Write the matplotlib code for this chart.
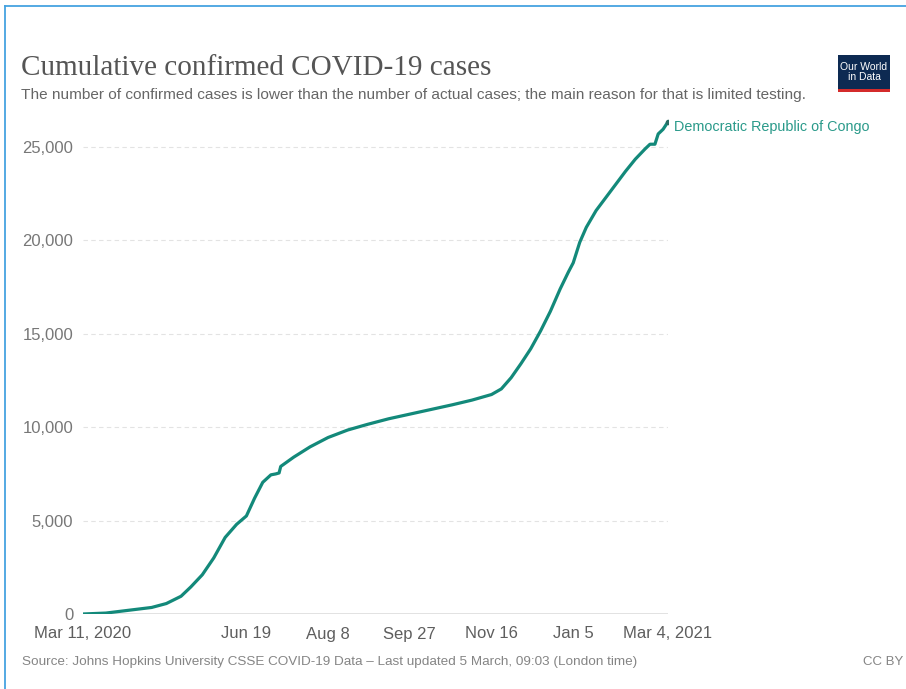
import matplotlib
matplotlib.use("Agg")
import matplotlib.pyplot as plt
from matplotlib.patches import Rectangle
from matplotlib.lines import Line2D
import pandas as pd

# ---- data ----
dates = ["2020-03-11", "2020-03-25", "2020-04-08", "2020-04-22", "2020-05-01",
         "2020-05-10", "2020-05-16", "2020-05-23", "2020-05-30", "2020-06-06",
         "2020-06-13", "2020-06-19", "2020-06-24", "2020-06-29", "2020-07-04",
         "2020-07-07", "2020-07-09", "2020-07-10", "2020-07-18", "2020-07-28",
         "2020-08-08", "2020-08-20", "2020-09-01", "2020-09-14", "2020-09-27",
         "2020-10-10", "2020-10-23", "2020-11-04", "2020-11-16", "2020-11-22",
         "2020-11-28", "2020-12-04", "2020-12-10", "2020-12-16", "2020-12-22",
         "2020-12-28", "2021-01-02", "2021-01-05", "2021-01-09", "2021-01-13",
         "2021-01-19", "2021-01-25", "2021-01-31", "2021-02-06", "2021-02-12",
         "2021-02-18", "2021-02-21", "2021-02-24", "2021-02-26", "2021-03-01",
         "2021-03-04"]
cases = [1, 50, 200, 350, 560,
         950, 1450, 2100, 3000, 4100,
         4800, 5250, 6200, 7050, 7450,
         7500, 7550, 7900, 8400, 8950,
         9450, 9850, 10150, 10450, 10700,
         10950, 11200, 11450, 11750, 12050,
         12650, 13400, 14200, 15150, 16200,
         17400, 18300, 18800, 19900, 20700,
         21600, 22300, 23000, 23700, 24350,
         24900, 25150, 25150, 25700, 25950,
         26350]
country = "Democratic Republic of Congo"
y_ticks = [0, 5000, 10000, 15000, 20000, 25000]
x_tick_dates = ["2020-03-11", "2020-06-19", "2020-08-08", "2020-09-27",
                "2020-11-16", "2021-01-05", "2021-03-04"]
x_tick_labels = ["Mar 11, 2020", "Jun 19", "Aug 8", "Sep 27", "Nov 16",
                 "Jan 5", "Mar 4, 2021"]

W, H = 906, 689
fig = plt.figure(figsize=(W / 100, H / 100), dpi=100)
fig.patch.set_facecolor("white")

def fx(px):
    return px / W

def fy(py):
    return 1 - py / H

ax_left, ax_right, ax_bottom, ax_top = 83, 668, 614, 119
ax = fig.add_axes([fx(ax_left), fy(ax_bottom), fx(ax_right - ax_left),
                   (ax_bottom - ax_top) / H])

d = pd.to_datetime(dates)
teal = "#13897a"
ax.plot(d, cases, color=teal, lw=2.3, solid_capstyle="round", zorder=3)
ax.plot(d[-1:], cases[-1:], "o", color="#2b6b62", ms=3, zorder=4)

ax.set_xlim(pd.Timestamp("2020-03-11"), pd.Timestamp("2021-03-04"))
ax.set_ylim(0, 26500)
ax.set_yticks(y_ticks)
ax.set_yticklabels([f"{v:,}" for v in y_ticks])
ax.set_xticks(pd.to_datetime(x_tick_dates))
ax.set_xticklabels(x_tick_labels)

for s in ax.spines.values():
    s.set_visible(False)
ax.tick_params(axis="y", length=0, pad=7, labelsize=12, labelcolor="#777777")
ax.tick_params(axis="x", length=0, pad=9, labelsize=12, labelcolor="#5e5e5e")
for lab in ax.get_xticklabels() + ax.get_yticklabels():
    lab.set_fontfamily("Liberation Sans")
ax.grid(axis="y", color="#e3e3e3", lw=0.8, ls=(0, (4, 3)))
ax.grid(axis="x", visible=False)
ax.axhline(0, color="#dddddd", lw=1.2, zorder=1)
ax.set_axisbelow(True)

ax.annotate(country, xy=(d[-1], cases[-1]), xytext=(4, -4),
            textcoords="offset points", ha="left", va="center",
            fontsize=10.4, color="#2a9a8a", family="Liberation Sans",
            annotation_clip=False)

# title / subtitle
fig.text(fx(21), fy(68), "Cumulative confirmed COVID-19 cases",
         family="Liberation Serif", fontsize=21, color="#555555", va="center",
         ha="left")
fig.text(fx(21), fy(95),
         "The number of confirmed cases is lower than the number of actual cases; the main reason for that is limited testing.",
         family="Liberation Sans", fontsize=11.1, color="#666666", va="center",
         ha="left")

# source / licence
fig.text(fx(22), fy(662),
         "Source: Johns Hopkins University CSSE COVID-19 Data \u2013 Last updated 5 March, 09:03 (London time)",
         family="Liberation Sans", fontsize=9.7, color="#858585", va="center",
         ha="left")
fig.text(fx(903), fy(662), "CC BY", family="Liberation Sans", fontsize=9.5,
         color="#858585", va="center", ha="right")

# logo
lx0, ly0, lx1, ly1 = 838, 55, 890, 92
fig.patches.append(Rectangle((fx(lx0), fy(ly1)), fx(lx1 - lx0), (ly1 - ly0) / H,
                             transform=fig.transFigure, facecolor="#0d2a52",
                             edgecolor="none", zorder=5))
fig.patches.append(Rectangle((fx(lx0), fy(ly1)), fx(lx1 - lx0), 3 / H,
                             transform=fig.transFigure, facecolor="#d42b2b",
                             edgecolor="none", zorder=6))
fig.text(fx((lx0 + lx1) / 2), fy(72), "Our World\nin Data", color="white",
         family="Liberation Sans", fontsize=7.5, ha="center", va="center",
         linespacing=0.95, zorder=7)

# frame lines (blue border)
fig.add_artist(Line2D([fx(5), fx(906)], [fy(6), fy(6)], color="#45a3e0",
                      lw=1.3, transform=fig.transFigure))
fig.add_artist(Line2D([fx(5), fx(5)], [fy(6), fy(689)], color="#45a3e0",
                      lw=1.3, transform=fig.transFigure))

fig.savefig("out.png", dpi=100)
